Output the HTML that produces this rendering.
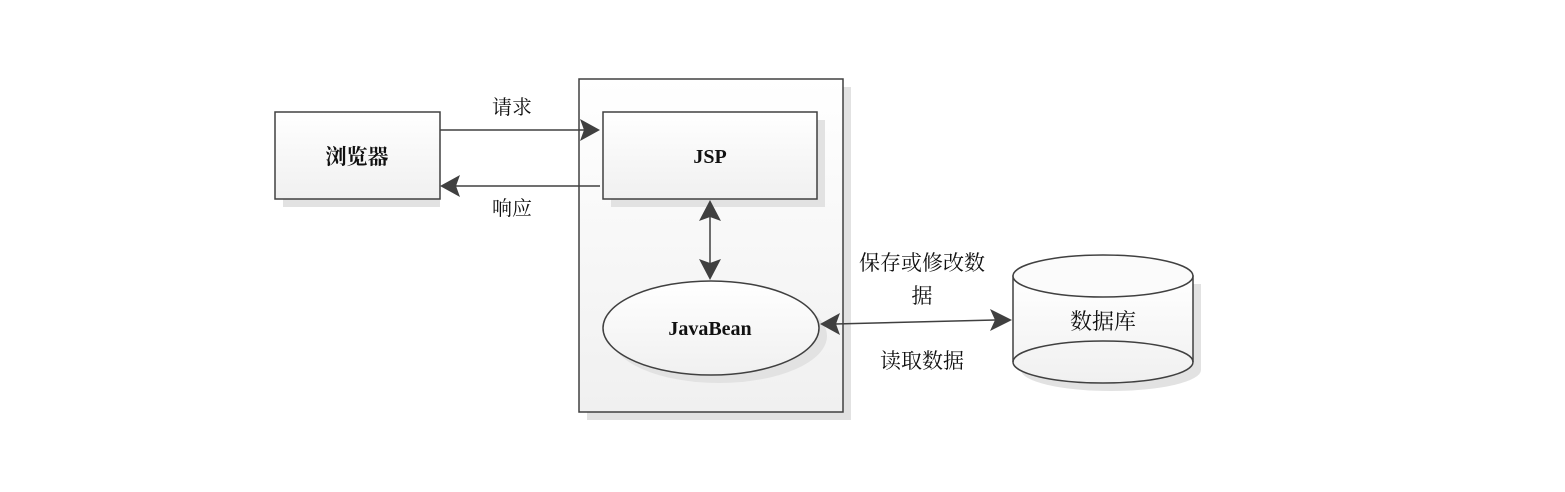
<!DOCTYPE html>
<html><head><meta charset="utf-8"><style>
html,body{margin:0;padding:0;background:#fff;}
svg{display:block;}
text{font-family:"Liberation Serif","Noto Serif CJK SC",serif;fill:#111;}
</style></head><body>
<svg width="1565" height="492" viewBox="0 0 1565 492" xmlns="http://www.w3.org/2000/svg">
<defs>
<linearGradient id="g" x1="0" y1="0" x2="0" y2="1"><stop offset="0" stop-color="#ffffff"/><stop offset="1" stop-color="#f0f0f0"/></linearGradient>
</defs>
<!-- container -->
<rect x="587" y="87" width="264" height="333" fill="#e2e2e2"/>
<rect x="579" y="79" width="264" height="333" fill="url(#g)" stroke="#404040" stroke-width="1.5"/>
<!-- browser -->
<rect x="283" y="120" width="157" height="87" fill="#e2e2e2"/>
<rect x="275" y="112" width="165" height="87" fill="url(#g)" stroke="#404040" stroke-width="1.5"/>
<text x="357" y="164" font-size="21" font-weight="bold" text-anchor="middle">浏览器</text>
<!-- JSP -->
<rect x="611" y="120" width="214" height="87" fill="#e2e2e2"/>
<rect x="603" y="112" width="214" height="87" fill="url(#g)" stroke="#404040" stroke-width="1.5"/>
<text x="710" y="163" font-size="20" font-weight="bold" text-anchor="middle">JSP</text>
<!-- JavaBean -->
<ellipse cx="719" cy="336" rx="108" ry="47" fill="#e2e2e2"/>
<ellipse cx="711" cy="328" rx="108" ry="47" fill="url(#g)" stroke="#404040" stroke-width="1.5"/>
<text x="710" y="335" font-size="20" font-weight="bold" text-anchor="middle">JavaBean</text>
<!-- cylinder -->
<path d="M1021 284 L1021 370 A90 21 0 0 0 1201 370 L1201 284 Z" fill="#e2e2e2"/>
<path d="M1013 276 L1013 362 A90 21 0 0 0 1193 362 L1193 276 Z" fill="url(#g)" stroke="#404040" stroke-width="1.5"/>
<ellipse cx="1103" cy="276" rx="90" ry="21" fill="#fbfbfb" stroke="#404040" stroke-width="1.5"/>
<path d="M1013 362 A90 21 0 0 1 1193 362" fill="none" stroke="#404040" stroke-width="1.5"/>
<text x="1103" y="329" font-size="22" text-anchor="middle">数据库</text>
<!-- request -->
<line x1="440" y1="130" x2="585" y2="130" stroke="#404040" stroke-width="1.5"/>
<polygon points="580,119 600,130 580,141 584,130" fill="#404040"/>
<text x="512" y="114" font-size="20" text-anchor="middle">请求</text>
<!-- response -->
<line x1="455" y1="186" x2="600" y2="186" stroke="#404040" stroke-width="1.5"/>
<polygon points="460,175 440,186 460,197 456,186" fill="#404040"/>
<text x="512" y="215" font-size="20" text-anchor="middle">响应</text>
<!-- vertical double arrow -->
<line x1="710" y1="215" x2="710" y2="265" stroke="#404040" stroke-width="1.5"/>
<polygon points="699,221 710,200 721,221 710,217" fill="#404040"/>
<polygon points="699,259 710,280 721,259 710,263" fill="#404040"/>
<!-- db arrow -->
<line x1="835" y1="324" x2="995" y2="320" stroke="#404040" stroke-width="1.5"/>
<polygon points="840,313 820,324 840,335 836,324" fill="#404040"/>
<polygon points="990,309 1012,320 990,331 995,320" fill="#404040"/>
<text x="922" y="270" font-size="21" text-anchor="middle">保存或修改数</text>
<text x="922" y="303" font-size="21" text-anchor="middle">据</text>
<text x="922" y="368" font-size="21" text-anchor="middle">读取数据</text>
</svg>
</body></html>
